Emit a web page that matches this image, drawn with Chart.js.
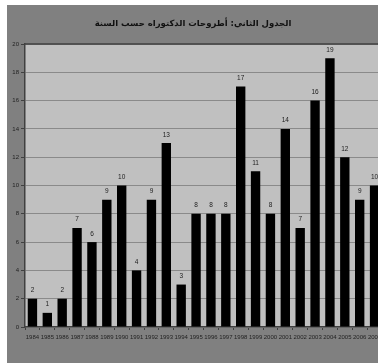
<!DOCTYPE html>
<html>
<head>
    <meta charset="utf-8" />
    <script src="https://cdn.jsdelivr.net/npm/chart.js"></script>
    <style>
        html, body { margin: 0; padding: 0; background: white; overflow: hidden; }
        .chart-box {
            position: absolute;
            left: 7px;
            top: 5px;
            width: 400px;
            height: 358px;
            background: #808080;
        }
    </style>
</head>
<body>
    <div class="chart-box">
        <canvas id="thesisChart"></canvas>
    </div>

    <script>
        // Data
        const titleText = 'الجدول الثاني: أطروحات الدكتوراه حسب السنة';
        const years = ['1984', '1985', '1986', '1987', '1988', '1989', '1990', '1991', '1992', '1993', '1994', '1995',
                       '1996', '1997', '1998', '1999', '2000', '2001', '2002', '2003', '2004', '2005', '2006', '2007'];
        const theses = [2, 1, 2, 7, 6, 9, 10, 4, 9, 13, 3, 8, 8, 8, 17, 11, 8, 14, 7, 16, 19, 12, 9, 10];
        const yTicks = [0, 2, 4, 6, 8, 10, 12, 14, 16, 18, 20];

        const fontFamily = '"Liberation Sans", Arial, "DejaVu Sans", sans-serif';

        // plot background, border, title and value labels
        const decor = {
            id: 'decor',
            beforeDraw(chart) {
                const { ctx, chartArea: a } = chart;
                ctx.save();
                ctx.fillStyle = '#c0c0c0';
                ctx.fillRect(a.left, a.top, a.right - a.left, a.bottom - a.top);
                ctx.restore();
            },
            afterDraw(chart) {
                const { ctx, chartArea: a } = chart;
                ctx.save();
                ctx.strokeStyle = '#404040';
                ctx.lineWidth = 1.5;
                ctx.beginPath();
                ctx.moveTo(a.left, a.top);
                ctx.lineTo(a.right, a.top);
                ctx.stroke();

                // title
                ctx.fillStyle = '#111';
                ctx.font = 'bold 8.5px "DejaVu Sans", sans-serif';
                ctx.direction = 'rtl';
                ctx.textAlign = 'center';
                ctx.textBaseline = 'middle';
                ctx.fillText(titleText, 186, 19);

                // values above bars
                ctx.direction = 'ltr';
                ctx.font = '6.5px ' + fontFamily;
                ctx.fillStyle = '#222';
                ctx.textBaseline = 'bottom';
                const meta = chart.getDatasetMeta(0);
                meta.data.forEach((bar, i) => {
                    ctx.fillText(String(theses[i]), bar.x, bar.y - 5);
                });
                ctx.restore();
            }
        };

        new Chart(
            document.getElementById('thesisChart'),
            {
                type: 'bar',
                data: {
                    labels: years,
                    datasets: [{
                        label: 'أطروحات',
                        data: theses,
                        backgroundColor: '#000000',
                        borderWidth: 0,
                        categoryPercentage: 1,
                        barPercentage: 0.63
                    }]
                },
                options: {
                    responsive: true,
                    maintainAspectRatio: false,
                    animation: false,
                    layout: {
                        padding: { top: 39, left: 0, right: 25, bottom: 0 }
                    },
                    plugins: {
                        legend: { display: false },
                        title: { display: false },
                        tooltip: { enabled: false }
                    },
                    scales: {
                        x: {
                            afterFit(scale) { scale.height = 36; },
                            border: { display: true, color: '#404040', width: 1.5 },
                            grid: {
                                drawOnChartArea: false,
                                drawTicks: true,
                                tickLength: 3,
                                color: '#404040',
                                offset: true
                            },
                            ticks: {
                                color: '#222',
                                font: { family: fontFamily, size: 6 },
                                padding: 4,
                                maxRotation: 0,
                                autoSkip: false
                            }
                        },
                        y: {
                            min: 0,
                            max: 20,
                            afterFit(scale) { scale.width = 18; },
                            afterBuildTicks(scale) {
                                scale.ticks = yTicks.map(v => ({ value: v }));
                            },
                            border: { display: true, color: '#404040', width: 1.5 },
                            grid: {
                                color: '#8a8a8a',
                                lineWidth: 1,
                                drawTicks: true,
                                tickLength: 4,
                                tickColor: '#404040'
                            },
                            ticks: {
                                color: '#222',
                                font: { family: fontFamily, size: 6 },
                                padding: 2
                            }
                        }
                    }
                },
                plugins: [decor]
            }
        );
    </script>
</body>
</html>
